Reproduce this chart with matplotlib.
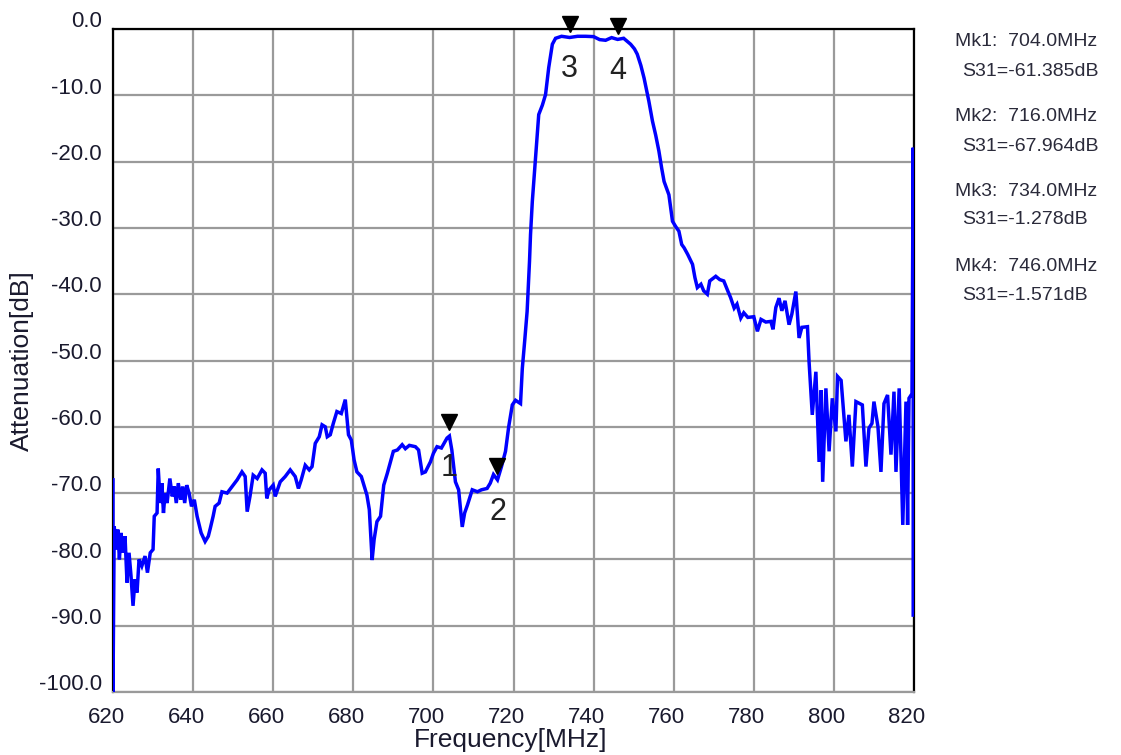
import matplotlib
matplotlib.use("Agg")
import matplotlib.pyplot as plt
from matplotlib.transforms import ScaledTranslation, offset_copy

plt.rcParams['font.family'] = ['Liberation Sans', 'DejaVu Sans']

freq = [620.0, 620.0, 620.3, 620.8, 621.2, 621.6, 622.0, 622.5, 623.0, 623.5, 624.0, 624.5,
        625.0, 625.5, 626.0, 626.5, 627.2, 628.0, 628.6, 629.3, 630.0, 630.3, 631.0, 631.3,
        631.8, 632.2, 632.6, 633.0, 633.5, 634.2, 634.8, 635.3, 635.8, 636.3, 636.9, 637.4,
        637.9, 638.4, 639.0, 639.6, 640.3, 641.0, 642.0, 643.0, 643.8, 644.3, 645.0, 645.5,
        646.5, 647.2, 648.5, 650.0, 651.0, 652.2, 653.0, 653.5, 654.2, 655.0, 656.0, 657.2,
        658.0, 658.4, 659.0, 660.0, 660.5, 661.75, 663.0, 664.25, 665.5, 666.3, 667.0, 668.0,
        669.0, 669.7, 670.5, 671.5, 672.2, 673.0, 673.5, 674.25, 675.0, 675.9, 677.0, 678.0,
        678.8, 679.5, 680.2, 680.9, 682.0, 683.4, 684.0, 684.7, 685.2, 685.9, 686.8, 687.6,
        688.5, 690.0, 691.0, 692.2, 693.0, 694.0, 695.5, 696.3, 697.2, 698.0, 699.25, 700.0,
        700.9, 702.0, 703.4, 704.0, 704.6, 705.5, 706.3, 707.2, 707.8, 708.5, 709.7, 711.0,
        712.0, 713.4, 714.2, 715.0, 716.0, 717.0, 718.0, 718.8, 719.7, 720.5, 721.75, 722.2,
        722.8, 723.4, 724.0, 724.25, 724.7, 725.5, 726.3, 727.2, 728.0, 728.8, 729.7, 730.5,
        732.0, 734.0, 736.0, 738.0, 740.0, 741.5, 743.0, 744.5, 746.0, 747.5, 749.25, 750.2,
        750.9, 751.8, 752.6, 753.8, 754.7, 755.5, 756.3, 757.0, 757.6, 758.8, 759.7, 760.5,
        761.3, 762.0, 762.6, 763.5, 764.7, 765.3, 765.9, 766.8, 767.5, 768.4, 769.0, 770.5,
        771.5, 772.5, 773.5, 774.2, 775.1, 775.8, 776.75, 777.5, 778.5, 780.0, 780.9, 781.8,
        783.0, 784.25, 784.8, 785.5, 786.3, 787.0, 787.8, 788.8, 789.5, 790.5, 791.3, 792.0,
        793.4, 793.8, 794.6, 795.5, 796.3, 796.8, 797.2, 798.0, 798.8, 799.6, 800.5, 800.9,
        801.8, 803.0, 803.75, 804.6, 805.5, 807.1, 808.0, 808.75, 809.5, 810.0, 811.0, 811.75,
        812.5, 813.4, 814.25, 815.0, 815.5, 816.3, 817.2, 818.0, 818.4, 818.75, 819.5, 819.8,
        819.8]
att = [-68.0, -100.0, -75.0, -78.5, -75.5, -80.0, -76.0, -79.0, -76.5, -83.5, -79.0, -82.5,
       -87.0, -83.0, -85.0, -80.0, -81.0, -79.5, -82.0, -79.0, -78.5, -73.5, -73.0, -66.3,
       -71.5, -68.5, -73.0, -70.0, -71.5, -67.8, -70.5, -69.0, -71.5, -68.5, -71.0, -69.0,
       -71.5, -68.8, -70.0, -72.0, -71.0, -73.5, -76.0, -77.3, -76.5, -75.3, -73.5, -72.0,
       -71.5, -69.8, -70.0, -68.8, -68.0, -66.8, -67.5, -72.8, -70.5, -67.3, -67.8, -66.5,
       -67.0, -70.8, -69.5, -68.8, -70.5, -68.3, -67.5, -66.5, -67.5, -69.3, -68.0, -65.8,
       -66.5, -66.0, -62.5, -61.5, -59.7, -60.0, -61.5, -61.2, -59.5, -57.7, -58.0, -55.9,
       -61.2, -62.0, -65.0, -66.8, -67.5, -70.3, -72.5, -80.1, -77.0, -74.3, -73.5, -68.8,
       -67.0, -63.7, -63.5, -62.7, -63.3, -62.8, -63.0, -63.5, -67.0, -66.8, -65.3, -64.0,
       -63.0, -63.2, -61.7, -61.4, -63.5, -68.3, -69.5, -75.1, -73.0, -71.8, -69.5, -69.8,
       -69.5, -69.3, -68.5, -67.2, -68.0, -66.0, -63.7, -60.0, -56.7, -56.0, -56.5, -51.2,
       -47.0, -42.6, -35.0, -31.0, -26.0, -19.4, -12.9, -11.5, -9.9, -5.8, -2.3, -1.4,
       -1.1, -1.28, -1.1, -1.1, -1.15, -1.6, -1.7, -1.3, -1.57, -1.4, -2.3, -3.0,
       -3.8, -5.5, -7.4, -10.9, -13.9, -16.0, -18.4, -21.0, -23.0, -25.0, -29.0, -29.8,
       -30.5, -32.5, -33.0, -34.0, -35.5, -37.5, -39.0, -38.5, -39.5, -40.0, -38.0, -37.3,
       -37.8, -38.0, -39.5, -40.5, -42.1, -41.5, -43.6, -42.8, -43.5, -43.4, -45.6, -43.8,
       -44.2, -44.1, -45.3, -42.0, -40.6, -42.5, -41.0, -44.6, -43.0, -39.6, -46.6, -45.0,
       -44.9, -50.2, -58.2, -51.7, -65.3, -54.5, -68.3, -54.2, -63.7, -55.7, -60.7, -52.4,
       -53.0, -62.2, -58.2, -66.0, -56.2, -56.7, -66.0, -60.2, -59.5, -56.2, -60.0, -66.8,
       -56.5, -55.2, -64.2, -54.7, -66.8, -54.2, -74.8, -56.2, -74.8, -55.7, -55.0, -17.9,
       -88.4]

marker_ids = ["1", "2", "3", "4"]
marker_freq = [704.0, 716.0, 734.0, 746.0]
marker_att = [-61.385, -67.964, -1.278, -1.571]

x_ticks = [620, 640, 660, 680, 700, 720, 740, 760, 780, 800, 820]
y_ticks = [0, -10, -20, -30, -40, -50, -60, -70, -80, -90, -100]
y_tick_labels = ["0.0", "-10.0", "-20.0", "-30.0", "-40.0", "-50.0", "-60.0",
                 "-70.0", "-80.0", "-90.0", "-100.0"]

fig = plt.figure(figsize=(11.21, 7.55), dpi=100)
ax = fig.add_axes([113 / 1121, 1 - 692 / 755, 801 / 1121, 663 / 755])

ax.plot(freq, att, color="#0000ff", lw=2.5, solid_joinstyle="miter", zorder=3)

ax.set_xlim(620, 820)
ax.set_ylim(-100, 0)
ax.set_xticks(x_ticks)
ax.set_yticks(y_ticks)
ax.set_yticklabels(y_tick_labels)
ax.grid(True, color="#9a9a9a", lw=1.6)
ax.set_axisbelow(True)
ax.tick_params(length=0, colors="#1a1a2e")
ax.tick_params(axis="x", pad=11, labelsize=16)
ax.tick_params(axis="y", pad=8, labelsize=16)

for lab in ax.get_yticklabels():
    lab.set_transform(lab.get_transform() + ScaledTranslation(0, 7 / 72, fig.dpi_scale_trans))
for lab in ax.get_xticklabels():
    lab.set_transform(lab.get_transform() + ScaledTranslation(-5 / 72, 0, fig.dpi_scale_trans))

for side in ["top", "left", "right"]:
    ax.spines[side].set_color("black")
    ax.spines[side].set_linewidth(1.6)
ax.spines["bottom"].set_color("#9a9a9a")
ax.spines["bottom"].set_linewidth(1.6)

ax.set_xlabel("Frequency[MHz]", fontsize=19, color="#1a1a2e", va="center")
ax.xaxis.set_label_coords(0.497, -0.073)
ax.set_ylabel("Attenuation[dB]", fontsize=19, color="#1a1a2e", va="center")
ax.yaxis.set_label_coords(-0.114, 0.50)

tri_tr = offset_copy(ax.transData, fig=fig, x=0, y=10, units="points")
for mid, mf, ma in zip(marker_ids, marker_freq, marker_att):
    ax.plot([mf], [ma], marker="v", color="black", markersize=11, transform=tri_tr,
            clip_on=False, zorder=5, linestyle="none")
    ax.annotate(mid, (mf, ma), xytext=(0, -23), textcoords="offset points",
                ha="center", va="center", fontsize=22, color="#222222", zorder=4)

info = []
for mid, mf, ma in zip(marker_ids, marker_freq, marker_att):
    info.append((f"Mk{mid}:  {mf:.1f}MHz", f"S31={ma:.3f}dB"))
ys = [(41.7, 71.7), (116.7, 146.7), (191.7, 220.0), (266.7, 295.0)]
for (l1, l2), (y1, y2) in zip(info, ys):
    fig.text(955 / 1121, 1 - y1 / 755, l1, fontsize=14, color="#2a2a3a", va="center", ha="left")
    fig.text(962 / 1121, 1 - y2 / 755, l2, fontsize=14, color="#2a2a3a", va="center", ha="left")

fig.savefig("out.png", dpi=100)
